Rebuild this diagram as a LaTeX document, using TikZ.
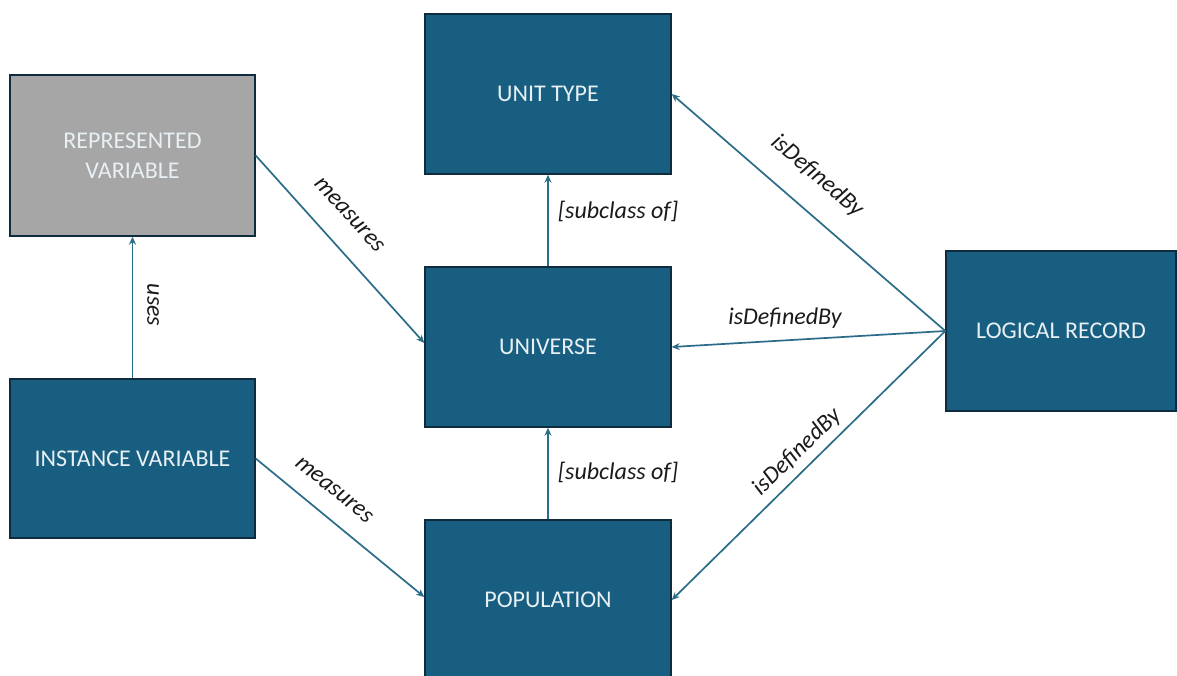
\documentclass[tikz,border=0pt]{standalone}
\usepackage{fontspec}
\setmainfont{Carlito}
\usetikzlibrary{arrows.meta}

\definecolor{boxblue}{HTML}{175E81}
\definecolor{boxedge}{HTML}{0E2C3D}
\definecolor{boxgray}{HTML}{A6A6A6}
\definecolor{linkblue}{HTML}{2B6D89}
\definecolor{boxtext}{HTML}{E8F0F4}
\definecolor{labeltext}{HTML}{1A1A1A}

\begin{document}
\begin{tikzpicture}[x=1pt,y=-1pt,
  entity/.style={rectangle, draw=boxedge, line width=1.4pt, fill=boxblue,
    text=boxtext, inner sep=0pt, align=center,
    font=\fontsize{24}{30}\selectfont},
  grayentity/.style={entity, fill=boxgray},
  link/.style={draw=linkblue, line width=1.7pt,
    -{Stealth[length=8pt,width=7pt]}},
  linklabel/.style={text=labeltext, inner sep=0pt,
    font=\fontsize{24}{28}\selectfont\itshape}]

\useasboundingbox (0,0) rectangle (1177,675);
\fill[white] (0,0) rectangle (1177,675);

% classes
\node[entity, minimum width=246pt, minimum height=160pt] (unittype) at (548,94) {UNIT TYPE};
\node[grayentity, minimum width=245pt, minimum height=161pt] (repvar) at (132.5,155.5) {REPRESENTED\\VARIABLE};
\node[entity, minimum width=246pt, minimum height=160pt] (universe) at (548,347) {UNIVERSE};
\node[entity, minimum width=230pt, minimum height=160pt] (logrec) at (1061,331) {LOGICAL RECORD};
\node[entity, minimum width=245pt, minimum height=159pt] (instvar) at (132.5,458.5) {INSTANCE VARIABLE};
\node[entity, minimum width=246pt, minimum height=160pt] (population) at (548,600) {POPULATION};

% relations
\draw[link] (repvar.east) -- ([yshift=4pt]universe.west);
\draw[link] (instvar.east) -- ([yshift=3pt]population.west);
\draw[link] (instvar.north) -- (repvar.south);
\draw[link] (universe.north) -- (unittype.south);
\draw[link] (population.north) -- (universe.south);
\draw[link] (logrec.west) -- (unittype.east);
\draw[link] (logrec.west) -- (universe.east);
\draw[link] (logrec.west) -- (population.east);

% relation labels
\node[linklabel, rotate=-47.6] (lmeas1) at (349,215) {measures};
\node[linklabel, rotate=-39] (lmeas2) at (334,490) {measures};
\node[linklabel, rotate=-90] (luses) at (153,305) {uses};
\node[linklabel] (lsub1) at (618,211) {[subclass of]};
\node[linklabel] (lsub2) at (618,472) {[subclass of]};
\node[linklabel, rotate=-40.5] (ldef1) at (817,176) {isDefinedBy};
\node[linklabel] (ldef2) at (785,318) {isDefinedBy};
\node[linklabel, rotate=44.3] (ldef3) at (797,452) {isDefinedBy};
\end{tikzpicture}
\end{document}
